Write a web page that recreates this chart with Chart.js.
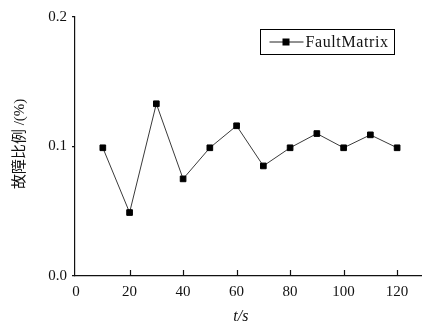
<!DOCTYPE html>
<html>
<head>
<meta charset="utf-8">
<script src="https://cdn.jsdelivr.net/npm/chart.js@4/dist/chart.umd.min.js"></script>
<style>
    html, body { margin: 0; padding: 0; background: #fff; }
    #wrap { width: 422px; height: 328px; }
</style>
</head>
<body>
<div id="wrap"><canvas id="faultChart" width="422" height="328"></canvas></div>
<script>
// 数据
const times = [10, 20, 30, 40, 50, 60, 70, 80, 90, 100, 110, 120];
const faultRatio = [0.099, 0.049, 0.133, 0.075, 0.099, 0.116, 0.085, 0.099, 0.110, 0.099, 0.109, 0.099];
const xTicks = [0, 20, 40, 60, 80, 100, 120];
const yTicks = [0, 0.1, 0.2];
const seriesName = 'FaultMatrix';
const xTitle = 't/s';
const yTitle = '故障比例 /(%)';

const serif = '"Liberation Serif", "DejaVu Serif", serif';

// 坐标轴标题、向内刻度、图例
const decorPlugin = {
    id: 'decor',
    afterDraw(chart) {
        const ctx = chart.ctx;
        const area = chart.chartArea;
        const xs = chart.scales.x;
        ctx.save();

        // x 轴向内刻度
        ctx.strokeStyle = '#111';
        ctx.lineWidth = 1.2;
        xs.ticks.forEach(t => {
            if (t.value === 0) return;
            const px = Math.round(xs.getPixelForValue(t.value)) + 0.5;
            ctx.beginPath();
            ctx.moveTo(px, area.bottom);
            ctx.lineTo(px, area.bottom - 6);
            ctx.stroke();
        });

        // y 轴标题
        ctx.fillStyle = '#111';
        ctx.textAlign = 'center';
        ctx.textBaseline = 'middle';
        ctx.save();
        ctx.translate(20, area.top + (area.bottom - area.top) * 0.49);
        ctx.rotate(-Math.PI / 2);
        ctx.font = '15px "Liberation Serif", "Noto Sans CJK SC", serif';
        ctx.fillText(yTitle, 0, 0);
        ctx.restore();

        // x 轴标题
        ctx.font = 'italic 16px ' + serif;
        ctx.fillText(xTitle, area.left + (area.right - area.left) * 0.478, area.bottom + 41);

        // 图例
        const boxW = 134, boxH = 25;
        const bx = area.right - 28 - boxW + 0.5;
        const by = area.top + 12 + 0.5;
        ctx.strokeStyle = '#000';
        ctx.lineWidth = 1;
        ctx.strokeRect(bx, by, boxW, boxH);
        const my = by + boxH / 2;
        ctx.strokeStyle = '#222';
        ctx.beginPath();
        ctx.moveTo(bx + 9, my);
        ctx.lineTo(bx + 43, my);
        ctx.stroke();
        ctx.fillStyle = '#000';
        ctx.fillRect(bx + 22, my - 3.5, 7, 7);
        ctx.textAlign = 'left';
        ctx.font = '16px ' + serif;
        ctx.letterSpacing = '0.6px';
        ctx.fillStyle = '#111';
        ctx.fillText(chart.data.datasets[0].label, bx + 45, my + 1);
        ctx.restore();
    }
};

const ctx = document.getElementById('faultChart').getContext('2d');
new Chart(ctx, {
    type: 'line',
    data: {
        datasets: [
            {
                label: seriesName,
                data: times.map((t, i) => ({ x: t, y: faultRatio[i] })),
                borderColor: '#3a3a3a',
                borderWidth: 1,
                pointStyle: 'rect',
                pointRadius: 4,
                pointBorderWidth: 1,
                pointBackgroundColor: '#000',
                pointBorderColor: '#000',
                tension: 0,
            },
        ],
    },
    options: {
        responsive: false,
        animation: false,
        layout: { autoPadding: false, padding: { top: 17, right: 0, left: 0, bottom: 0 } },
        plugins: {
            legend: { display: false },
            tooltip: { enabled: false },
        },
        scales: {
            x: {
                type: 'linear',
                min: -0.4,
                max: 129.3,
                afterBuildTicks: s => { s.ticks = xTicks.map(v => ({ value: v })); },
                afterFit: s => { s.height = 52; s.paddingRight = 0; s.paddingLeft = 0; },
                grid: { display: false, drawTicks: false },
                border: { display: true, color: '#111', width: 1.2 },
                ticks: {
                    color: '#111',
                    padding: 7,
                    maxRotation: 0,
                    font: { family: serif, size: 15 },
                },
            },
            y: {
                min: 0,
                max: 0.2,
                afterBuildTicks: s => { s.ticks = yTicks.map(v => ({ value: v })); },
                afterFit: s => { s.width = 75; s.paddingTop = 0; s.paddingBottom = 0; },
                grid: { display: true, drawOnChartArea: false, drawTicks: true, tickLength: 3, color: '#111', lineWidth: 1.2 },
                border: { display: true, color: '#111', width: 1.2 },
                ticks: {
                    color: '#111',
                    padding: 5,
                    font: { family: serif, size: 15 },
                    callback: v => v.toFixed(1),
                },
            },
        },
    },
    plugins: [decorPlugin],
});
</script>
</body>
</html>
